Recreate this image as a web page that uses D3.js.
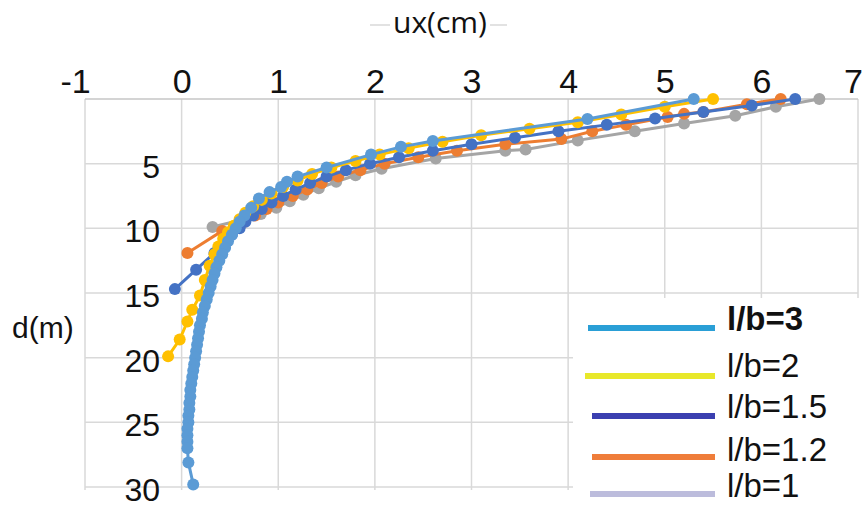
<!DOCTYPE html>
<html><head><meta charset="utf-8">
<script src="https://cdn.jsdelivr.net/npm/d3@7"></script>
<style>
body{margin:0;background:#fff}
svg{display:block}
text{font-family:"Liberation Sans",Arial,sans-serif;fill:#111}
</style>
</head><body>
<svg id="chart" width="865" height="507"></svg>
<script>
// ---- data ----
const xTicks = [-1, 0, 1, 2, 3, 4, 5, 6, 7];
const yTicks = [5, 10, 15, 20, 25, 30];
const seriesNames = ["l/b=3", "l/b=2", "l/b=1.5", "l/b=1.2", "l/b=1"];
const lineColors = ["#5b9bd5", "#ffc000", "#4472c4", "#ed7d31", "#a5a5a5"];
const legendColors = ["#2a9fd6", "#e8e82a", "#3b3fb0", "#ef7d3a", "#bcbcdc"];

// [ux (cm), d (m)]
const lb3 = [[5.3,0],[4.2,1.55],[2.6,3.25],[2.27,3.7],[1.96,4.3],[1.5,5.3],[1.2,6.0],[1.09,6.4],[1.03,6.8],[0.91,7.2],[0.8,7.7],[0.72,8.4],[0.65,9.0],[0.6,9.5],[0.56,10],[0.52,10.5],[0.48,11],[0.45,11.5],[0.42,12],[0.39,12.5],[0.36,13],[0.34,13.5],[0.32,14],[0.3,14.5],[0.28,15],[0.26,15.5],[0.24,16],[0.22,16.5],[0.21,17],[0.19,17.5],[0.18,18],[0.17,18.5],[0.16,19],[0.15,19.5],[0.14,20],[0.13,20.5],[0.12,21],[0.11,21.5],[0.1,22],[0.09,22.5],[0.09,23],[0.08,23.5],[0.08,24],[0.07,24.5],[0.07,25],[0.06,25.5],[0.06,26],[0.06,26.5],[0.06,27],[0.07,28.1],[0.12,29.8]];
const lb2 = [[5.5,0],[5.0,0.6],[4.55,1.2],[4.1,1.8],[3.6,2.3],[3.1,2.8],[2.7,3.3],[2.35,3.8],[2.05,4.3],[1.8,4.8],[1.55,5.3],[1.35,5.8],[1.2,6.3],[1.05,6.8],[0.93,7.3],[0.83,7.8],[0.74,8.3],[0.66,8.8],[0.6,9.3],[0.54,9.8],[0.48,10.3],[0.43,10.8],[0.38,11.4],[0.34,12.0],[0.29,12.9],[0.24,14.0],[0.19,15.2],[0.11,16.3],[0.06,17.2],[-0.02,18.6],[-0.14,19.9]];
const lb15 = [[6.35,0],[5.9,0.5],[5.4,1.0],[4.9,1.5],[4.4,2.0],[3.9,2.5],[3.45,3.0],[3.0,3.5],[2.6,4.0],[2.25,4.5],[1.95,5.0],[1.7,5.5],[1.5,6.0],[1.33,6.5],[1.18,7.0],[1.05,7.5],[0.93,8.0],[0.83,8.5],[0.74,9.0],[0.66,9.5],[0.6,10.0],[0.52,10.5],[0.45,11.0],[0.34,11.9],[0.15,13.2],[-0.07,14.7]];
const lb12 = [[6.2,0],[5.85,0.4],[5.4,1.0],[5.2,1.15],[5.03,1.4],[4.6,2.0],[4.25,2.5],[3.93,3.1],[3.35,3.5],[2.85,4.0],[2.45,4.5],[2.1,5.0],[1.85,5.5],[1.62,6.0],[1.45,6.5],[1.3,7.0],[1.15,7.5],[1.0,8.0],[0.88,8.5],[0.76,9.0],[0.65,9.5],[0.42,10.2],[0.06,11.9]];
const lb1 = [[6.6,0],[6.15,0.6],[5.73,1.3],[5.2,1.9],[4.69,2.5],[4.1,3.2],[3.56,3.9],[3.35,4.0],[2.63,4.6],[2.07,5.4],[1.8,5.9],[1.6,6.4],[1.42,6.9],[1.26,7.4],[1.12,7.9],[0.98,8.4],[0.82,8.9],[0.65,9.3],[0.32,9.9]];
const seriesData = [lb3, lb2, lb15, lb12, lb1];

// ---- layout ----
const svg = d3.select("#chart");
const x = d3.scaleLinear().domain([-1, 7]).range([85, 858]);
const y = d3.scaleLinear().domain([0, 30]).range([99, 487]);

// gridlines
svg.append("g").selectAll("line").data(xTicks).join("line")
  .attr("x1", d => x(d)).attr("x2", d => x(d))
  .attr("y1", y(0)).attr("y2", y(30) + 3)
  .attr("stroke", "#d9d9d9").attr("stroke-width", 1.5);
svg.append("g").selectAll("line").data([0].concat(yTicks)).join("line")
  .attr("x1", x(-1)).attr("x2", x(7))
  .attr("y1", d => y(d)).attr("y2", d => y(d))
  .attr("stroke", d => d === 0 ? "#c6c6c6" : "#d9d9d9").attr("stroke-width", 1.5);

// top x axis labels
const xAxis = svg.append("g").attr("transform", `translate(0,${y(0)})`)
  .call(d3.axisTop(x).tickValues(xTicks).tickSize(0).tickPadding(6).tickFormat(d => String(d)));
xAxis.select(".domain").remove();
xAxis.selectAll("text").attr("font-size", 34).attr("fill", "#111")
  .style("font-family", '"Liberation Sans", Arial, sans-serif')
  .attr("dx", d => d === -1 ? -10 : (d === 7 ? -5 : 0));

// y axis labels
const yAxis = svg.append("g").attr("transform", "translate(160,0)")
  .call(d3.axisLeft(y).tickValues(yTicks).tickSize(0).tickPadding(0));
yAxis.select(".domain").remove();
yAxis.selectAll("text").attr("font-size", 32).attr("dy", "0.42em").attr("fill", "#111")
  .style("font-family", '"Liberation Sans", Arial, sans-serif');

// axis titles
svg.append("line").attr("x1", 370).attr("x2", 390).attr("y1", 25).attr("y2", 25).attr("stroke", "#e2e2e2").attr("stroke-width", 2);
svg.append("line").attr("x1", 490).attr("x2", 507).attr("y1", 25).attr("y2", 25).attr("stroke", "#e2e2e2").attr("stroke-width", 2);
svg.append("text").attr("x", 440).attr("y", 33).attr("text-anchor", "middle")
  .attr("font-size", 30).style("font-family", '"Open Sans", sans-serif').attr("fill", "#333").text("ux(cm)");
svg.append("text").attr("x", 12).attr("y", 338)
  .attr("font-size", 30).attr("fill", "#333").text("d(m)");

// series (draw last series first so l/b=3 is on top)
const line = d3.line().x(d => x(d[0])).y(d => y(d[1]));
const order = [4, 3, 2, 1, 0];
order.forEach(i => {
  const g = svg.append("g");
  g.append("path").datum(seriesData[i]).attr("d", line)
    .attr("fill", "none").attr("stroke", lineColors[i]).attr("stroke-width", 3);
  g.selectAll("circle").data(seriesData[i]).join("circle")
    .attr("cx", d => x(d[0])).attr("cy", d => y(d[1])).attr("r", 6)
    .attr("fill", lineColors[i]);
});

// legend
svg.append("rect").attr("x", 573).attr("y", 298).attr("width", 292).attr("height", 209).attr("fill", "#fff");
const legLineY = [328, 376, 416, 457, 494];
const legLineX1 = [588, 585, 592, 592, 590];
const legTextY = [330, 377, 418, 461, 497];
seriesNames.forEach((n, i) => {
  svg.append("line").attr("x1", legLineX1[i]).attr("x2", 715)
    .attr("y1", legLineY[i]).attr("y2", legLineY[i])
    .attr("stroke", legendColors[i]).attr("stroke-width", 6);
  svg.append("text").attr("x", 727).attr("y", legTextY[i])
    .attr("font-size", 33).attr("font-weight", i === 0 ? "bold" : "normal")
    .attr("fill", "#111").text(n);
});
</script>
</body></html>
